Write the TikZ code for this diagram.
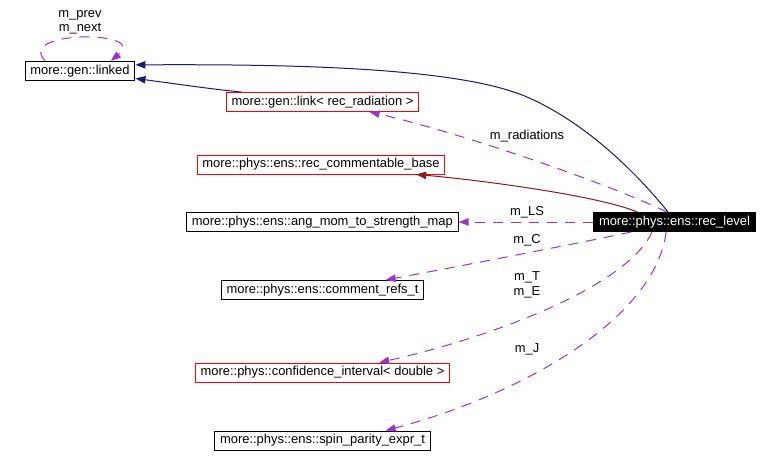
\documentclass[tikz,border=0pt]{standalone}
\usepackage{fontspec}
\setmainfont{Liberation Sans}
\usetikzlibrary{arrows.meta}
\definecolor{DoxNavy}{RGB}{25,25,112}
\definecolor{DoxFirebrick}{RGB}{139,26,26}
\definecolor{DoxOrchid}{RGB}{154,50,205}
\definecolor{DoxRed}{RGB}{255,0,0}
\newcommand{\doxfont}{\fontsize{9.7pt}{11.6pt}\selectfont}
\tikzset{
  dox/class/.style={
    draw=black,
    line width=0.75pt,
    fill=white,
    text=black,
    minimum height=14.25pt,
    inner xsep=4pt,
    inner ysep=1pt,
    font=\doxfont
  },
  dox/incomplete/.style={
    dox/class,
    draw=DoxRed
  },
  dox/current/.style={
    dox/class,
    fill=black,
    text=white
  },
  dox/label/.style={font=\doxfont, text=black, inner sep=0pt, align=center},
  dox/inherit/.style={-{Triangle[length=7.5pt,width=5.5pt]}, line width=0.75pt, draw=DoxNavy},
  dox/private/.style={-{Triangle[length=7.5pt,width=5.5pt]}, line width=0.75pt, draw=DoxFirebrick},
  dox/usage/.style={-{Triangle[length=7.5pt,width=5.5pt]}, line width=0.75pt, draw=DoxOrchid, dash pattern=on 7.5pt off 6pt}
}
\begin{document}
\begin{tikzpicture}[x=0.75pt,y=-0.75pt]
  \useasboundingbox (0,0) rectangle (780,467);
  \node[dox/class] (lk) at (80,70.7) {more::gen::linked};
  \node[dox/incomplete] (lnk) at (322.5,102) {more::gen::link< rec\_radiation >};
  \node[dox/incomplete] (rcb) at (321,164.5) {more::phys::ens::rec\_commentable\_base};
  \node[dox/class] (am) at (322.3,222) {more::phys::ens::ang\_mom\_to\_strength\_map};
  \node[dox/current] (rl) at (674.5,222) {more::phys::ens::rec\_level};
  \node[dox/class] (cr) at (322.5,290) {more::phys::ens::comment\_refs\_t};
  \node[dox/incomplete] (ci) at (322.5,372.5) {more::phys::confidence\_interval< double >};
  \node[dox/class] (sp) at (322.5,440.5) {more::phys::ens::spin\_parity\_expr\_t};

  \node[dox/label] (lprev) at (80,15) {m\_prev};
  \node[dox/label] (lnext) at (80,28.5) {m\_next};
  \node[dox/label] (lrad) at (527,136) {m\_radiations};
  \node[dox/label] (lls) at (527,212) {m\_LS};
  \node[dox/label] (lc) at (527,240) {m\_C};
  \node[dox/label] (lt) at (527,277) {m\_T};
  \node[dox/label] (le) at (527,292) {m\_E};
  \node[dox/label] (lj) at (527,349) {m\_J};

  \draw[dox/usage] (lk.164) .. controls (15,30) and (150,30) .. (lk.18);
  \draw[dox/inherit] (rl.123) .. controls (630,165) and (580,120) .. (527,97) .. controls (460,68) and (300,64) .. (lk.6);
  \draw[dox/inherit] (lnk.173) .. controls (210,89) and (170,83) .. (lk.352);
  \draw[dox/usage] (rl.127) .. controls (600,180) and (450,130) .. (lnk.348);
  \draw[dox/private] (rl.165) .. controls (600,196) and (480,180) .. (rcb.354);
  \draw[dox/usage] (rl.west) -- (am.east);
  \draw[dox/usage] (rl.193) .. controls (570,245) and (450,268) .. (cr.9);
  \draw[dox/usage] (rl.204) .. controls (625,290) and (480,340) .. (ci.10);
  \draw[dox/usage] (rl.230) .. controls (655,320) and (520,395) .. (sp.9);
\end{tikzpicture}
\end{document}
